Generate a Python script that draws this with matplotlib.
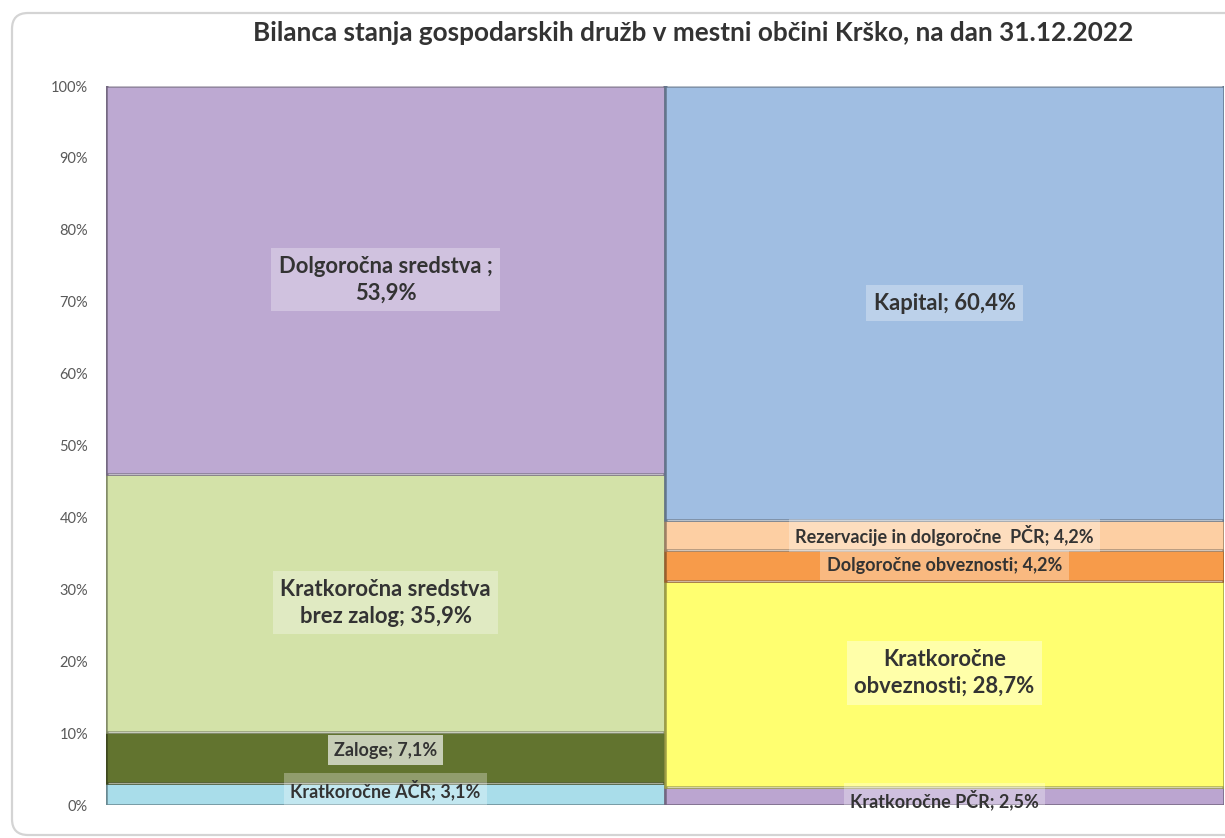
"""
Bilanca stanja gospodarskih družb v mestni občini Krško (31.12.2022).

Two 100 % stacked columns without gap: sredstva (left) and viri sredstev (right).
Output: out.png
"""

import matplotlib
matplotlib.use("Agg")
import matplotlib.pyplot as plt
import matplotlib.colors as mcolors
from matplotlib.patches import FancyBboxPatch
import numpy as np

plt.rcParams["font.family"] = ["Lato", "DejaVu Sans"]

# --- data (bottom to top) ---------------------------------------------------
ASSET_NAMES = ["Kratkoročne AČR", "Zaloge", "Kratkoročna sredstva\nbrez zalog", "Dolgoročna sredstva "]
ASSET_VALUES = [3.1, 7.1, 35.9, 53.9]

LIAB_NAMES = ["Kratkoročne PČR", "Kratkoročne\nobveznosti", "Dolgoročne obveznosti",
              "Rezervacije in dolgoročne  PČR", "Kapital"]
LIAB_VALUES = [2.5, 28.7, 4.2, 4.2, 60.4]

Y_TICKS = [0, 10, 20, 30, 40, 50, 60, 70, 80, 90, 100]

# --- styling ----------------------------------------------------------------
ASSET_STYLE = {
    "colors": ["#A9DDEA", "#62742F", "#D3E2A8", "#BDA9D2"],
    "sizes": [13, 13, 15.8, 15.8],
    "newline_value": [False, False, False, True],
    "offset_px": [4, 7, 0, 0],
    "box_alpha": [0.3, 0.65, 0.3, 0.3],
}
LIAB_STYLE = {
    "colors": ["#BBA5D0", "#FFFF70", "#F79B4A", "#FDCFA3", "#A0BEE2"],
    "sizes": [13, 15.8, 13, 13, 15.8],
    "newline_value": [False, False, False, False, False],
    "offset_px": [-4, 11, 0, 0, 0],
    "box_alpha": [0.3, 0.4, 0.3, 0.3, 0.3],
}
TEXT_COLOR = "#333333"
TICK_COLOR = "#595959"


def fmt_pct(v: float) -> str:
    return f"{v:.1f}".replace(".", ",") + "%"


def draw_column(ax, x, names, values, style):
    bottoms = np.concatenate([[0], np.cumsum(values)[:-1]])
    for name, val, bot, col, size, nl, off, balpha in zip(
        names, values, bottoms, style["colors"], style["sizes"],
        style["newline_value"], style["offset_px"], style["box_alpha"],
    ):
        edge = mcolors.to_rgb(col)
        edge = tuple(c * 0.62 for c in edge)
        ax.bar(x, val, bottom=bot, width=1.0, color=col,
               edgecolor=edge, linewidth=1.8, zorder=2)
        # light bevel line near the top of each block
        ax.bar(x, 0, bottom=bot + val, width=0.992, color="none",
               edgecolor=(1, 1, 1, 0.55), linewidth=1.0, zorder=3)
        label = f"{name};{chr(10) if nl else ' '}{fmt_pct(val)}"
        ax.annotate(
            label, xy=(x, bot + val / 2), xytext=(0, off), textcoords="offset pixels",
            ha="center", va="center", fontsize=size, fontweight="bold",
            color=TEXT_COLOR, linespacing=1.35, zorder=5,
            bbox=dict(boxstyle="square,pad=0.35", facecolor="white",
                      edgecolor="none", alpha=balpha),
        )


def main() -> None:
    fig = plt.figure(figsize=(12.25, 8.38), dpi=100)
    fig.patch.set_facecolor("white")

    # rounded chart frame (display pixels)
    frame = FancyBboxPatch(
        (12, 3), 1260, 822, boxstyle="round,pad=0,rounding_size=16",
        transform=None, facecolor="none", edgecolor="#d4d4d4", linewidth=1.6,
        zorder=-1,
    )
    fig.patches.append(frame)

    ax = fig.add_axes([106 / 1225, 33 / 838, 1118 / 1225, 719 / 838])
    ax.set_facecolor("none")

    draw_column(ax, 0, ASSET_NAMES, ASSET_VALUES, ASSET_STYLE)
    draw_column(ax, 1, LIAB_NAMES, LIAB_VALUES, LIAB_STYLE)

    ax.set_xlim(-0.5, 1.5)
    ax.set_ylim(0, 100)
    ax.set_xticks([])
    ax.set_yticks(Y_TICKS)
    ax.set_yticklabels([f"{t}%" for t in Y_TICKS], fontsize=10.5, color=TICK_COLOR)
    ax.tick_params(axis="y", length=0, pad=13)
    for spine in ax.spines.values():
        spine.set_visible(False)

    fig.text(693 / 1225, 1 - 33 / 838,
             "Bilanca stanja gospodarskih družb v mestni občini Krško, na dan 31.12.2022",
             ha="center", va="center", fontsize=18.8, fontweight="bold", color=TEXT_COLOR)

    fig.savefig("out.png", dpi=100, facecolor="white")
    plt.close(fig)


if __name__ == "__main__":
    main()
